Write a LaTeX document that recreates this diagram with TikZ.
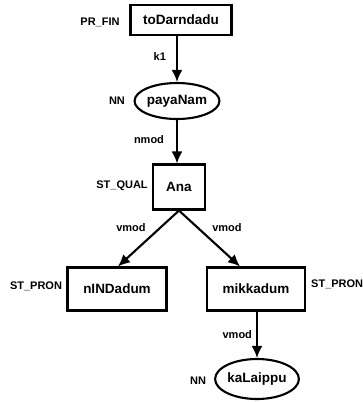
\documentclass[tikz,border=0pt]{standalone}
\usepackage{fontspec}
\setmainfont{Liberation Sans}
\usetikzlibrary{shapes.geometric,arrows.meta}
\tikzset{
  word/.style={draw,line width=2.1pt,font=\fontsize{13.5}{15}\selectfont\bfseries,inner sep=0pt},
  wordbox/.style={word,rectangle},
  wordell/.style={word,ellipse},
  tag/.style={font=\fontsize{11}{13}\selectfont\bfseries,inner sep=0pt},
  dep/.style={-{Latex[length=12pt,width=11pt]},line width=2.1pt},
}
\begin{document}
\begin{tikzpicture}[x=1pt,y=-1pt]
  \useasboundingbox (0,0) rectangle (362,402);
  % words
  \node[wordbox,minimum width=101pt,minimum height=30pt] (toDarndadu) at (181,20) {toDarndadu};
  \node[wordell,minimum width=80pt,minimum height=36pt] (payaNam) at (177,101) {payaNam};
  \node[wordbox,minimum width=52pt,minimum height=45pt] (Ana) at (179,187) {Ana};
  \node[wordbox,minimum width=99pt,minimum height=43pt] (nINDadum) at (117,289) {nINDadum};
  \node[wordbox,minimum width=98pt,minimum height=43pt] (mikkadum) at (256,289) {mikkadum};
  \node[wordell,minimum width=82pt,minimum height=40pt] (kaLaippu) at (257,379) {kaLaippu};
  % tags
  \node[tag] (tagA) at (100,22) {PR\_FIN};
  \node[tag] (tagB) at (117,101) {NN};
  \node[tag] (tagC) at (122,186) {ST\_QUAL};
  \node[tag] (tagD) at (36,286) {ST\_PRON};
  \node[tag,anchor=west] (tagE) at (311,284) {ST\_PRON};
  \node[tag] (tagF) at (198,381) {NN};
  % relations
  \draw[dep] ([xshift=-4pt]toDarndadu.south) -- (payaNam.north) node[tag,pos=0.45,left=10pt] (relA) {k1};
  \draw[dep] (payaNam.south) -- ([xshift=-2pt]Ana.north) node[tag,pos=0.45,left=12pt] (relB) {nmod};
  \draw[dep] (Ana.south) -- ([xshift=1pt]nINDadum.north) node[tag,pos=0.3,left=14pt] (relC) {vmod};
  \draw[dep] (Ana.south) -- ([xshift=-16pt]mikkadum.north) node[tag,pos=0.3,right=14pt] (relD) {vmod};
  \draw[dep] ([xshift=1pt]mikkadum.south) -- (kaLaippu.north) node[tag,pos=0.5,left=4pt] (relE) {vmod};
\end{tikzpicture}
\end{document}
